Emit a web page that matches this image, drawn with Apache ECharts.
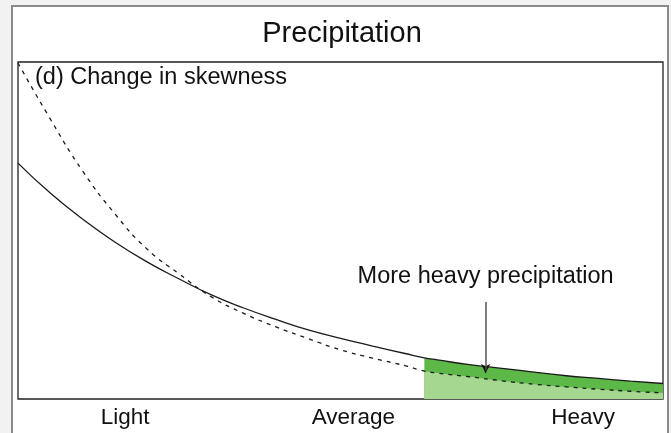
<!DOCTYPE html>
<html>
<head>
<meta charset="utf-8">
<title>Precipitation</title>
<script src="https://cdn.jsdelivr.net/npm/echarts@6/dist/echarts.min.js"></script>
<style>
  html, body { margin: 0; padding: 0; background: #f2f2f2; }
  #chart { width: 671px; height: 433px; }
</style>
</head>
<body>
<div id="chart"></div>
<script>
// Precipitation amount, as a percentage of the plotted range (light -> heavy)
const precipAmount = [0, 5, 10, 15, 20, 25, 30, 35, 40, 45, 50, 55, 60, 63, 65, 70, 75, 80, 85, 90, 95, 100];
// Relative frequency of each amount, new climate (solid curve)
const newClimate = [70.0, 61.1, 53.4, 46.6, 40.7, 35.6, 30.9, 27.0, 23.6, 20.5, 18.0, 15.7, 13.5, 12.2, 11.6, 10.2, 9.1, 8.0, 6.9, 6.1, 5.3, 4.6];
// Relative frequency of each amount, previous climate (dashed curve)
const previousClimate = [99.7, 83.1, 67.7, 55.0, 44.5, 37.1, 30.3, 25.4, 21.4, 17.9, 14.6, 12.1, 9.9, 8.3, 7.7, 6.6, 5.4, 4.4, 3.6, 2.9, 2.3, 1.8];
// Start of the heavy-precipitation tail that is shaded
const heavyThreshold = 63;
// Category labels along the precipitation axis
const tickLabels = ['Light', 'Average', 'Heavy'];
const tickValues = [16.6, 52, 87.6];
// Annotation arrow (x, top y, tip y) in data units
const arrowX = 72.5;
const arrowTop = 28.8;
const arrowTip = 7.7;
const annotationText = 'More heavy precipitation';
const annotationY = 36.2;

const FONT = '"Liberation Sans", Arial, Helvetica, sans-serif';

// Heavy tail of each curve, used for the shaded areas
const tailOf = (values) => precipAmount
  .map((x, i) => [x, values[i]])
  .filter(p => p[0] >= heavyThreshold);

const chart = echarts.init(document.getElementById('chart'), null, { renderer: 'canvas' });

function textEl(x, y, text, size, align) {
  return {
    type: 'text',
    x: x, y: y,
    style: {
      text: text,
      fontSize: size,
      fontFamily: FONT,
      fill: '#111',
      align: align,
      verticalAlign: 'middle'
    }
  };
}

chart.setOption({
  backgroundColor: '#f2f2f2',
  animation: false,
  grid: {
    left: 18, right: 8, top: 62, bottom: 34,
    show: true,
    borderColor: '#222',
    borderWidth: 1.3,
    backgroundColor: 'transparent'
  },
  xAxis: {
    type: 'value',
    min: 0, max: 100,
    axisLine: { show: false },
    axisTick: { show: false },
    splitLine: { show: false },
    axisLabel: {
      customValues: tickValues,
      formatter: (v) => {
        const i = tickValues.indexOf(v);
        return i >= 0 ? tickLabels[i] : '';
      },
      color: '#111',
      fontFamily: FONT,
      fontSize: 22.5,
      margin: 19,
      verticalAlign: 'middle'
    }
  },
  yAxis: {
    type: 'value',
    min: 0, max: 100,
    axisLine: { show: false },
    axisTick: { show: false },
    axisLabel: { show: false },
    splitLine: { show: false }
  },
  graphic: [
    {
      type: 'rect',
      z: -10,
      silent: true,
      shape: { x: 12, y: 6, width: 656, height: 440 },
      style: { fill: '#ffffff', stroke: '#8a8a8a', lineWidth: 2 }
    },
    textEl(342, 34, 'Precipitation', 29, 'center'),
    textEl(35, 78, '(d) Change in skewness', 23.5, 'left')
  ],
  series: [
    {
      // gain in heavy precipitation: filled up to the new-climate curve
      name: 'Extra heavy precipitation',
      type: 'line',
      data: tailOf(newClimate),
      smooth: true,
      symbol: 'none',
      lineStyle: { width: 0 },
      areaStyle: { color: '#5cb847', opacity: 1 },
      z: 1
    },
    {
      // heavy tail of the previous climate, painted over the gain
      name: 'Previous climate, heavy tail',
      type: 'line',
      data: tailOf(previousClimate),
      smooth: true,
      symbol: 'none',
      lineStyle: { width: 0 },
      areaStyle: { color: '#a6d791', opacity: 1 },
      z: 2
    },
    {
      name: 'New climate',
      type: 'line',
      data: precipAmount.map((x, i) => [x, newClimate[i]]),
      smooth: true,
      symbol: 'none',
      lineStyle: { color: '#1a1a1a', width: 1.3 },
      z: 3,
      markLine: {
        // black arrowhead at the tip of the annotation arrow
        silent: true,
        symbol: ['none', 'arrow'],
        symbolSize: [7, 9],
        label: { show: false },
        lineStyle: { color: '#111', width: 1.2, type: 'solid' },
        data: [[{ coord: [arrowX, arrowTip + 1] }, { coord: [arrowX, arrowTip] }]]
      }
    },
    {
      name: 'Previous climate',
      type: 'line',
      data: precipAmount.map((x, i) => [x, previousClimate[i]]),
      smooth: true,
      symbol: 'none',
      lineStyle: { color: '#1a1a1a', width: 1.3, type: [4, 5] },
      z: 3,
      markLine: {
        // grey shaft of the annotation arrow
        silent: true,
        symbol: ['none', 'none'],
        label: { show: false },
        lineStyle: { color: '#555', width: 1.5, type: 'solid' },
        data: [[{ coord: [arrowX, arrowTop] }, { coord: [arrowX, arrowTip + 1] }]]
      }
    }
  ]
});

// Annotation text placed above the arrow, in data coordinates
const labelPos = chart.convertToPixel({ gridIndex: 0 }, [arrowX, annotationY]);
chart.setOption({
  graphic: [
    {}, {}, {},
    textEl(labelPos[0], labelPos[1], annotationText, 23.5, 'center')
  ]
});
</script>
</body>
</html>
